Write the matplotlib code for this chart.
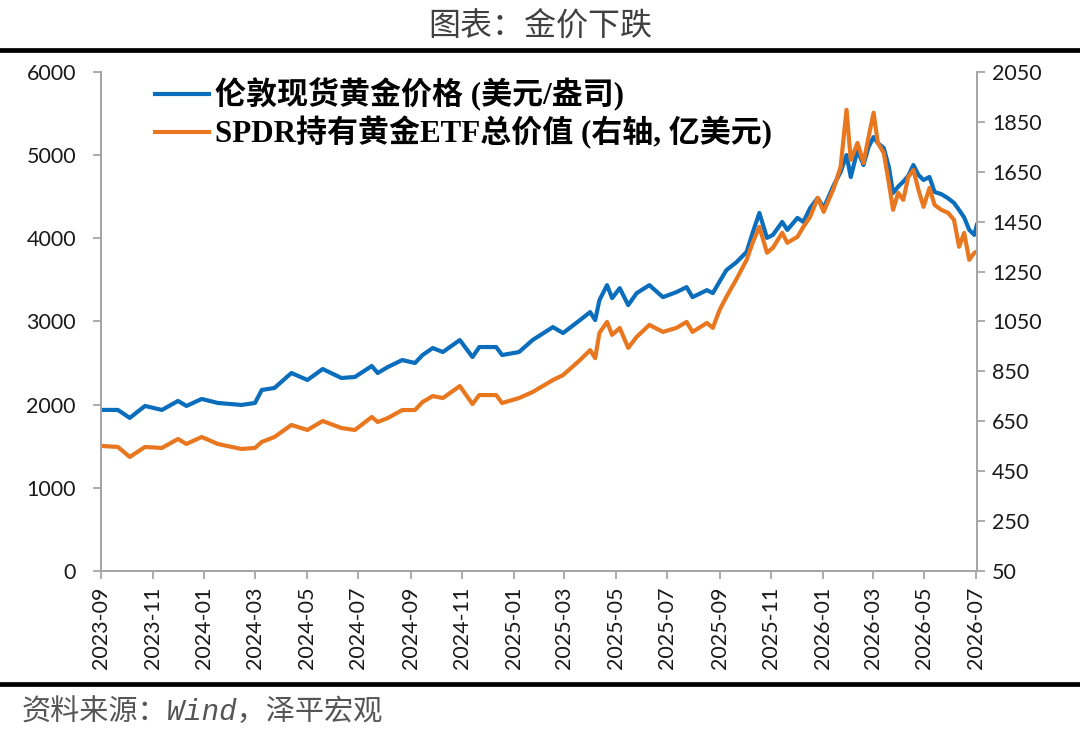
import matplotlib
matplotlib.use("Agg")
import matplotlib.pyplot as plt
import matplotlib.dates as mdates
import pandas as pd

plt.rcParams['font.family'] = ['Lato', 'Noto Sans CJK SC', 'DejaVu Sans']

# data
dates = [
    "2023-09-02", "2023-09-21", "2023-10-05", "2023-10-23", "2023-11-12", "2023-12-01",
    "2023-12-11", "2023-12-29", "2024-01-17", "2024-02-14", "2024-03-01", "2024-03-09",
    "2024-03-24", "2024-04-13", "2024-05-02", "2024-05-20", "2024-06-11", "2024-06-27",
    "2024-07-17", "2024-07-24", "2024-08-05", "2024-08-22", "2024-09-06", "2024-09-15",
    "2024-09-27", "2024-10-09", "2024-10-29", "2024-11-13", "2024-11-21", "2024-12-11",
    "2024-12-18", "2025-01-07", "2025-01-23", "2025-02-16", "2025-02-28", "2025-03-20",
    "2025-04-01", "2025-04-07", "2025-04-12", "2025-04-21", "2025-04-27", "2025-05-06",
    "2025-05-16", "2025-05-26", "2025-06-10", "2025-06-26", "2025-07-12", "2025-07-24",
    "2025-07-31", "2025-08-17", "2025-08-24", "2025-09-01", "2025-09-09", "2025-09-21",
    "2025-10-03", "2025-10-10", "2025-10-18", "2025-10-27", "2025-11-03", "2025-11-14",
    "2025-11-20", "2025-12-02", "2025-12-09", "2025-12-17", "2025-12-26", "2026-01-02",
    "2026-01-14", "2026-01-22", "2026-01-29", "2026-02-03", "2026-02-11", "2026-02-18",
    "2026-02-24", "2026-03-02", "2026-03-07", "2026-03-14", "2026-03-20", "2026-03-25",
    "2026-03-31", "2026-04-06", "2026-04-12", "2026-04-18", "2026-04-24", "2026-04-30",
    "2026-05-07", "2026-05-13", "2026-05-21", "2026-05-29", "2026-06-05", "2026-06-11",
    "2026-06-17", "2026-06-23", "2026-06-29", "2026-07-02",
]

gold_price = [
    1936, 1936, 1840, 1984, 1936, 2044, 1984, 2068, 2020, 1996, 2020, 2176,
    2200, 2380, 2296, 2428, 2320, 2332, 2464, 2380, 2452, 2536, 2500, 2596,
    2680, 2632, 2776, 2572, 2692, 2692, 2596, 2632, 2776, 2932, 2860, 3016,
    3112, 3016, 3256, 3436, 3280, 3400, 3196, 3340, 3436, 3292, 3352, 3412,
    3292, 3376, 3340, 3480, 3616, 3712, 3836, 4064, 4304, 4004, 4040, 4196,
    4100, 4244, 4196, 4364, 4484, 4364, 4640, 4796, 5000, 4736, 5060, 4880,
    5096, 5216, 5144, 5084, 4856, 4544, 4620, 4680, 4750, 4880, 4760, 4700,
    4736, 4556, 4530, 4480, 4424, 4340, 4250, 4100, 4040, 4160,
]

spdr_value = [
    551, 547, 507, 547, 543, 579, 559, 587, 559, 539, 543, 567,
    587, 635, 615, 651, 623, 615, 667, 647, 663, 695, 695, 727,
    751, 743, 791, 719, 755, 755, 723, 743, 767, 815, 835, 895,
    935, 903, 1004, 1048, 996, 1024, 944, 988, 1036, 1008, 1024, 1048,
    1008, 1044, 1024, 1096, 1148, 1220, 1297, 1365, 1429, 1325, 1345, 1405,
    1365, 1389, 1429, 1469, 1545, 1489, 1585, 1669, 1898, 1697, 1765, 1685,
    1789, 1886, 1765, 1725, 1605, 1497, 1565, 1537, 1629, 1657, 1577, 1509,
    1585, 1517, 1497, 1485, 1457, 1349, 1405, 1297, 1325, 1329,
]

x = pd.to_datetime(dates)

BLUE = "#0A6EBD"
ORANGE = "#E8771F"
GRAY = "#A6A6A6"

fig = plt.figure(figsize=(10.8, 7.33), dpi=100)
ax = fig.add_axes([0.0935, 0.221, 0.811, 0.681])
ax2 = ax.twinx()

l1, = ax.plot(x, gold_price, color=BLUE, lw=3.0)
l2, = ax2.plot(x, spdr_value, color=ORANGE, lw=3.0)

ax.set_ylim(0, 6000)
ax.set_yticks(range(0, 6001, 1000))
ax2.set_ylim(50, 2050)
ax2.set_yticks(range(50, 2051, 200))
ax.set_xlim(pd.Timestamp("2023-09-01"), pd.Timestamp("2026-07-02"))
ax.xaxis.set_major_locator(mdates.MonthLocator(bymonth=[1, 3, 5, 7, 9, 11]))
ax.xaxis.set_major_formatter(mdates.DateFormatter("%Y-%m"))

for a in (ax, ax2):
    for s in a.spines.values():
        s.set_color(GRAY)
        s.set_linewidth(1.4)
    a.spines['top'].set_visible(False)
    a.tick_params(colors=GRAY, labelcolor="#1a1a1a", labelsize=15.5, length=6, width=1.3)
ax.tick_params(axis='y', pad=12)
ax2.tick_params(axis='y', pad=5)
ax.tick_params(axis='x', labelrotation=90, pad=5)

leg_font = {'family': ['Liberation Serif', 'Noto Sans CJK SC'], 'weight': 'bold', 'size': 22.3}
ax2.legend([l1, l2], ["伦敦现货黄金价格 (美元/盎司)", "SPDR持有黄金ETF总价值 (右轴, 亿美元)"],
           loc="upper left", bbox_to_anchor=(0.047, 1.013), frameon=False, prop=leg_font,
           handlelength=1.75, handletextpad=0.2, labelspacing=0.15, borderaxespad=0)

fig.text(0.5, 0.965, "图表：金价下跌", ha="center", va="center", fontsize=23,
         color="#404040", fontweight="light", family=['Noto Sans CJK SC', 'DejaVu Sans'])
fig.add_artist(plt.Line2D([0, 1], [0.932, 0.932], color="black", lw=3.4, transform=fig.transFigure))
fig.add_artist(plt.Line2D([0, 1], [0.067, 0.067], color="black", lw=3.4, transform=fig.transFigure))
fig.text(0.02, 0.029, "资料来源：Wind，泽平宏观", ha="left", va="center", fontsize=21,
         color="#555555", style="italic", fontweight="light",
         family=['Liberation Mono', 'Noto Sans CJK SC'])

fig.savefig("out.png", dpi=100)
